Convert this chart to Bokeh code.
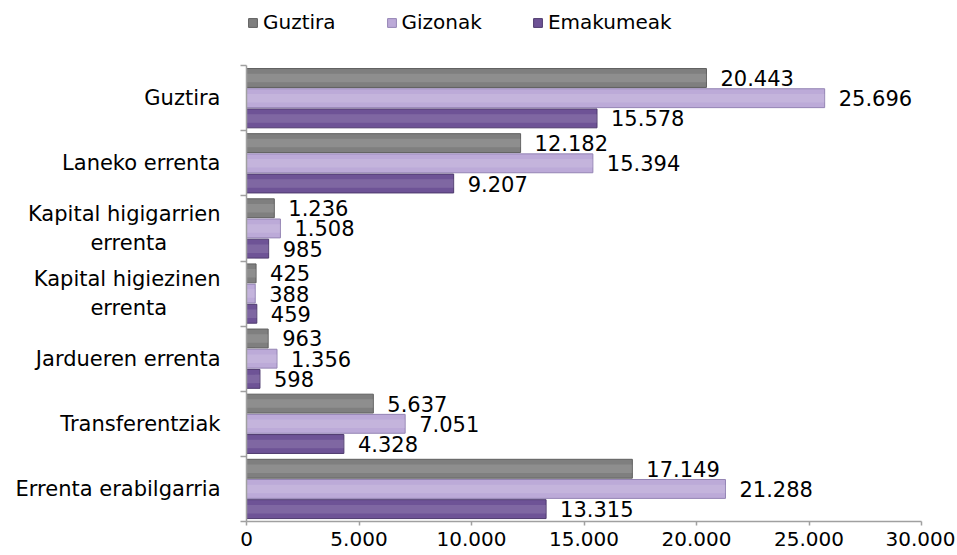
import numpy as np
from bokeh.plotting import figure
from bokeh.models import Range1d, FixedTicker, ColumnDataSource, Legend, LegendItem, LabelSet
from bokeh.core.properties import value
from bokeh.embed import file_html
from bokeh.resources import INLINE

NB = "\u00a0"
categories = ["Guztira", "Laneko errenta", "Kapital higigarrien\nerrenta" + NB * 8,
              "Kapital higiezinen\nerrenta" + NB * 8, "Jardueren errenta", "Transferentziak",
              "Errenta erabilgarria"]
guztira = [20443, 12182, 1236, 425, 963, 5637, 17149]
gizonak = [25696, 15394, 1508, 388, 1356, 7051, 21288]
emakumeak = [15578, 9207, 985, 459, 598, 4328, 13315]
series_names = ["Guztira", "Gizonak", "Emakumeak"]
x_ticks = [0, 5000, 10000, 15000, 20000, 25000, 30000]

colors = ["#7f7f7f", "#bcaad8", "#6e5396"]
edge_colors = ["#5e5e5e", "#9484b4", "#4e3a6e"]
offsets = [0.31, 0.0, -0.31]
bar_h = 0.29

FONT = "DejaVu Sans"
AXIS_GRAY = "#a0a0a0"

def fmt(v):
    return f"{v:,}".replace(",", ".")

n = len(categories)
centers = n - 0.5 - np.arange(n)
FRAME_H = 521

# frame spans the full height; the extra unit on top holds the legend
p = figure(width=955, height=555, output_backend="svg", toolbar_location=None,
           x_range=Range1d(0, 30000), y_range=Range1d(0, n + 1),
           min_border_left=246, min_border_right=34, min_border_top=0,
           min_border_bottom=34)
p.outline_line_color = None
p.xgrid.grid_line_color = None
p.ygrid.grid_line_color = None
p.background_fill_color = "white"

items = []
for name, vals, c, ec, off in zip(series_names, [guztira, gizonak, emakumeak], colors, edge_colors, offsets):
    src = ColumnDataSource(dict(y=centers + off, right=vals,
                                lab=[fmt(v) for v in vals]))
    r = p.hbar(y="y", right="right", left=0, height=bar_h, source=src,
               fill_color=c, line_color=ec, line_width=1)
    # soft highlight for a cylinder-like look
    p.hbar(y="y", right="right", left=0, height=bar_h * 0.45, source=src,
           fill_color="white", fill_alpha=0.12, line_color=None)
    p.add_layout(LabelSet(x="right", y="y", text="lab", source=src,
                          x_offset=14, y_offset=0, text_baseline="middle",
                          text_font=value(FONT), text_font_size=value("21px"),
                          text_color="black"))
    items.append(LegendItem(label=name, renderers=[r]))

# x axis
xa = p.xaxis[0]
xa.ticker = FixedTicker(ticks=x_ticks)
xa.major_label_overrides = {t: fmt(t) for t in x_ticks}
xa.major_label_text_font = FONT
xa.major_label_text_font_size = "20px"
xa.major_label_text_color = "black"
xa.axis_line_color = AXIS_GRAY
xa.axis_line_width = 1.5
xa.major_tick_line_color = AXIS_GRAY
xa.major_tick_line_width = 1.5
xa.major_tick_out = 4
xa.major_tick_in = 0
xa.minor_tick_line_color = None
xa.major_label_standoff = 6

# y axis
ya = p.yaxis[0]
ya.bounds = (0, n)
ya.ticker = FixedTicker(ticks=list(centers), minor_ticks=list(range(n + 1)))
ya.major_label_overrides = {float(c): cat for c, cat in zip(centers, categories)}
ya.major_label_text_font = FONT
ya.major_label_text_font_size = "21px"
ya.major_label_text_color = "black"
ya.axis_line_color = AXIS_GRAY
ya.axis_line_width = 1.5
ya.major_tick_line_color = None
ya.major_tick_out = 0
ya.major_tick_in = 0
ya.minor_tick_line_color = AXIS_GRAY
ya.minor_tick_line_width = 1.5
ya.minor_tick_out = 6
ya.minor_tick_in = 0
ya.major_label_standoff = 20

legend = Legend(items=items, orientation="horizontal", location=(1, FRAME_H - 34),
                label_text_font=FONT, label_text_font_size="20px",
                label_text_color="black",
                glyph_width=11, glyph_height=11, label_standoff=5, spacing=50,
                padding=0, margin=0, border_line_color=None,
                background_fill_alpha=0)
p.add_layout(legend, "center")

open("out.html", "w").write(file_html(p, INLINE))
